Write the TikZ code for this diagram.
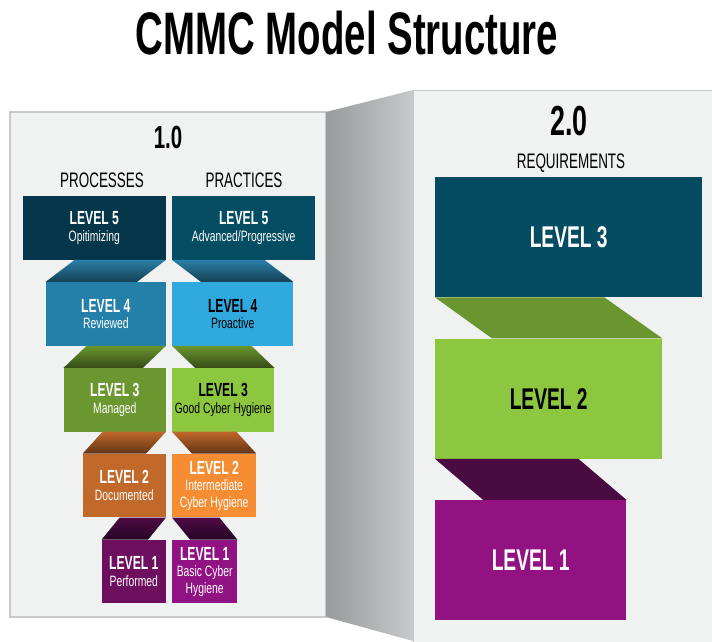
\documentclass[tikz,border=0pt]{standalone}
\usepackage{fontspec}
\setmainfont{Liberation Sans}
\newfontfamily\headfont[FakeStretch=0.64]{Liberation Sans}
\newfontfamily\subfont[FakeStretch=0.69]{Liberation Sans}
\usepackage{xcolor}
\usetikzlibrary{positioning}

\definecolor{panelbg}{HTML}{F0F1F1}
\definecolor{panelline}{HTML}{C8C9CA}
\definecolor{foldA}{HTML}{999A9B}
\definecolor{foldB}{HTML}{C8C9CB}
\definecolor{proc5c}{HTML}{05364A}
\definecolor{prac5c}{HTML}{054D63}
\definecolor{proc4c}{HTML}{2480A8}
\definecolor{prac4c}{HTML}{30A9DE}
\definecolor{proc3c}{HTML}{6A9730}
\definecolor{prac3c}{HTML}{8DC63F}
\definecolor{proc2c}{HTML}{C1692A}
\definecolor{prac2c}{HTML}{F68D33}
\definecolor{proc1c}{HTML}{6D0E5F}
\definecolor{prac1c}{HTML}{911282}
\definecolor{fold4}{HTML}{2A80A8}
\definecolor{fold3}{HTML}{6A962F}
\definecolor{fold2}{HTML}{C0682A}
\definecolor{fold1}{HTML}{4E0B46}
\definecolor{req3c}{HTML}{054C63}
\definecolor{req2c}{HTML}{8DC63F}
\definecolor{req1c}{HTML}{921281}
\definecolor{rfold3}{HTML}{6A962F}
\definecolor{rfold2}{HTML}{4A0A42}

\newcommand{\lvlfont}{\headfont\bfseries\fontsize{19}{22}\selectfont}
\newcommand{\subfnt}{\subfont\fontsize{15}{16.5}\selectfont}

\begin{document}
\begin{tikzpicture}
            [
            x=1pt, y=-1pt,
            panel/.style={
                draw=panelline,
                line width=1.5pt,
                fill=panelbg
            },
            lvlbox/.style={
                rectangle,
                inner sep=0pt,
                minimum height=63.5pt,
                align=center,
                text=white,
                font=\subfnt
            },
            reqbox/.style={
                rectangle,
                inner sep=0pt,
                minimum height=120pt,
                text=white,
                font=\headfont\bfseries\fontsize{30}{30}\selectfont
            },
            colhead/.style={
                anchor=base,
                font=\headfont\fontsize{21}{21}\selectfont
            }
            ]
            \useasboundingbox (0,0) rectangle (712,641);
            \clip (0,0) rectangle (712,641);

            % title
            \node (title) [anchor=base, font=\headfont\bfseries\fontsize{60}{60}\selectfont] at (347,54) {CMMC Model Structure};

            % the two panels and the grey fold between them
            \draw[panel] (10,112) rectangle (326,617);
            \draw[panel, line width=1pt] (413,90) rectangle (730,660);
            \shade[left color=foldA, middle color=foldA!65!foldB, right color=foldB] (326,112) -- (413,90) -- (413,641) -- (326,617) -- cycle;

            % headings
            \node (v1) [anchor=base, font=\headfont\bfseries\fontsize{32}{32}\selectfont] at (168,148) {1.0};
            \node (v2) [anchor=base, font=\headfont\bfseries\fontsize{42}{42}\selectfont] at (569,135) {2.0};
            \node (processes) [colhead] at (102,187) {PROCESSES};
            \node (practices) [colhead] at (244,187) {PRACTICES};
            \node (requirements) [colhead] at (571,168) {REQUIREMENTS};

            % 1.0 processes
            \node (proc5) [lvlbox, fill=proc5c, minimum width=143pt, anchor=north east] at (166,196) {\lvlfont LEVEL 5\\\subfnt Opitimizing};
            \node (proc4) [lvlbox, fill=proc4c, minimum width=120pt, below=22pt of proc5.south east, anchor=north east] {\lvlfont LEVEL 4\\\subfnt Reviewed};
            \node (proc3) [lvlbox, fill=proc3c, minimum width=102pt, below=22pt of proc4.south east, anchor=north east] {\lvlfont LEVEL 3\\\subfnt Managed};
            \node (proc2) [lvlbox, fill=proc2c, minimum width=83pt, below=22pt of proc3.south east, anchor=north east] {\lvlfont LEVEL 2\\\subfnt Documented};
            \node (proc1) [lvlbox, fill=proc1c, minimum width=64pt, below=22pt of proc2.south east, anchor=north east] {\lvlfont LEVEL 1\\\subfnt Performed};

            % 1.0 practices
            \node (prac5) [lvlbox, fill=prac5c, minimum width=143pt, right=6pt of proc5] {\lvlfont LEVEL 5\\\subfnt Advanced/Progressive};
            \node (prac4) [lvlbox, fill=prac4c, text=black, minimum width=121pt, right=6pt of proc4] {\lvlfont LEVEL 4\\\subfnt Proactive};
            \node (prac3) [lvlbox, fill=prac3c, text=black, minimum width=102pt, right=6pt of proc3] {\lvlfont LEVEL 3\\\subfnt Good Cyber Hygiene};
            \node (prac2) [lvlbox, fill=prac2c, minimum width=84pt, right=6pt of proc2] {\lvlfont LEVEL 2\\\subfnt Intermediate\\\subfnt Cyber Hygiene};
            \node (prac1) [lvlbox, fill=prac1c, minimum width=65pt, right=6pt of proc1] {\lvlfont LEVEL 1\\\subfnt Basic Cyber\\\subfnt Hygiene};

            % folds between the levels
            \foreach \up/\lo/\dx/\col in {5/4/29/fold4, 4/3/23/fold3, 3/2/20/fold2, 2/1/18/fold1}{
                \shade[top color=\col, bottom color=\col!50!black] (proc\lo.north west) -- ([xshift=-\dx pt]proc\lo.north east) -- (proc\up.south east) -- ([xshift=\dx pt, yshift=22pt]proc\lo.north west) -- cycle;
                \shade[top color=\col, bottom color=\col!50!black] (prac\lo.north east) -- ([xshift=\dx pt]prac\lo.north west) -- (prac\up.south west) -- ([xshift=-\dx pt, yshift=22pt]prac\lo.north east) -- cycle;
            }

            % 2.0 requirements
            \node (req3) [reqbox, fill=req3c, minimum width=267pt, anchor=north west] at (435,177) {LEVEL 3};
            \node (req2) [reqbox, fill=req2c, text=black, minimum width=227pt, below=41pt of req3.south west, anchor=north west] {LEVEL 2};
            \node (req1) [reqbox, fill=req1c, minimum width=191pt, below=41pt of req2.south west, anchor=north west] {LEVEL 1};

            \fill[rfold3] (req3.south west) -- ([xshift=-58pt, yshift=41pt]req2.north east) -- (req2.north east) -- ([xshift=57pt]req2.north west) -- cycle;
            \fill[rfold2] (req2.south west) -- ([xshift=-48pt, yshift=41pt]req1.north east) -- (req1.north east) -- ([xshift=48pt]req1.north west) -- cycle;

        \end{tikzpicture}
\end{document}
